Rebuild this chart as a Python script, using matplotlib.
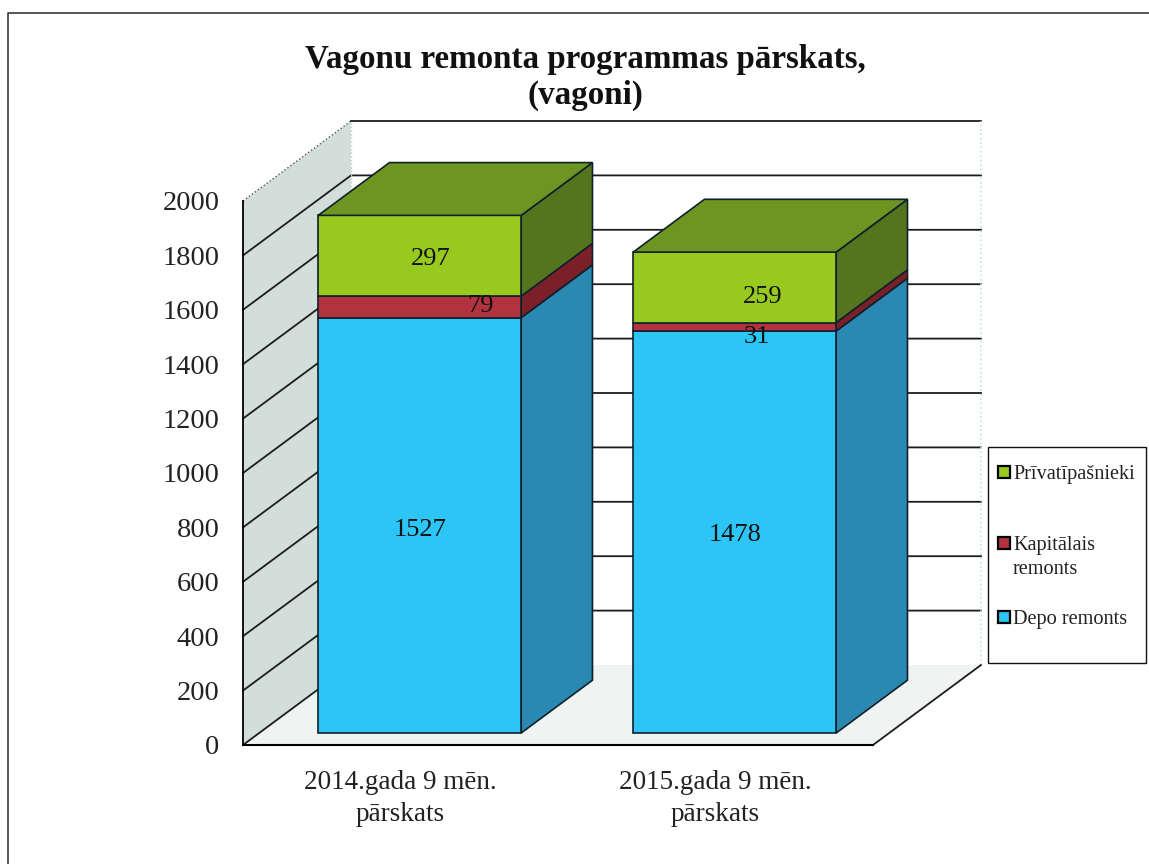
import matplotlib
matplotlib.use('Agg')
import matplotlib.pyplot as plt
from matplotlib.lines import Line2D
from matplotlib.patches import Polygon, Rectangle

plt.rcParams['font.family'] = ['Liberation Serif', 'DejaVu Serif']

#------ Datos ------
categorias = ['2014.gada 9 mēn.\npārskats', '2015.gada 9 mēn.\npārskats']
depo       = [1527, 1478]
kapitalais = [79, 31]
privati    = [297, 259]
series_nom = ['Depo remonts', 'Kapitālais\nremonts', 'Prīvatīpašnieki']
y_ticks    = [0, 200, 400, 600, 800, 1000, 1200, 1400, 1600, 1800, 2000]

#------ Estilo ------
W, H = 1149, 864
frente = ['#2cc5f6', '#b3323f', '#97c91f']
lado   = ['#2b88b2', '#7b2029', '#55741e']
techo  = '#6c9522'
ancho  = 203 / 315      # ancho de la barra en unidades de categoria
shift  = 3 / 315
prof_x = 108 / 315      # corrimiento de la profundidad total
prof_y = 80 / 0.272
d0, d1 = 0.15, 0.66     # profundidad de la barra

# corrimiento de cada etiqueta respecto del centro del segmento (px)
off_x = [[0, 61, 11], [0, 22, 28]]
off_y = [[5, -1, 3], [3, 10, 10]]
# centro vertical de cada entrada de la leyenda (px)
ley_y = [617, 543, 472]


def p(x, y, d=0.0):
    return (x + d * prof_x, y + d * prof_y)


fig = plt.figure(figsize=(W / 100, H / 100), dpi=100)
ax = fig.add_axes([243 / W, 1 - 745 / H, 630 / W, 544 / H])
ax.set_xlim(0, 2)
ax.set_ylim(0, 2000)
ax.patch.set_alpha(0)

#------ Marco de la pagina ------
fig.add_artist(Line2D([8 / W, 8 / W, 1], [0, 1 - 13 / H, 1 - 13 / H],
                      transform=fig.transFigure, color='#3a3a3a', lw=1.2))

#------ Paredes y piso ------
ax.add_patch(Polygon([p(0, 0), p(0, 2000), p(0, 2000, 1), p(0, 0, 1)], closed=True,
                     fc='#d3dedb', ec='none', clip_on=False, zorder=1))
ax.add_patch(Polygon([p(0, 0), p(2, 0), p(2, 0, 1), p(0, 0, 1)], closed=True,
                     fc='#eff4f3', ec='none', clip_on=False, zorder=1))

for v in y_ticks:
    xs, ys = zip(p(0, v), p(0, v, 1), p(2, v, 1))
    if v == 0:
        xs, ys = xs[:2], ys[:2]
    if v == 2000:
        ax.plot(xs[:2], ys[:2], color='#555555', lw=1, ls=':', clip_on=False, zorder=2)
        xs, ys = xs[1:], ys[1:]
    ax.plot(xs, ys, color='#1c1c1c', lw=1.3, clip_on=False, zorder=2)

xs, ys = zip(p(0, 0, 1), p(0, 2000, 1))
ax.plot(xs, ys, color='#b9cfcc', lw=1, ls=':', clip_on=False, zorder=2)
xs, ys = zip(p(2, 0, 1), p(2, 2000, 1))
ax.plot(xs, ys, color='#bfe6ea', lw=1.2, ls=':', clip_on=False, zorder=2)
xs, ys = zip(p(2, 0), p(2, 0, 1))
ax.plot(xs, ys, color='#1c1c1c', lw=1.3, clip_on=False, zorder=2)

#------ Barras ------
for i, cat in enumerate(categorias):
    xc = i + 0.5 + shift
    x0 = xc - ancho / 2
    x1 = xc + ancho / 2
    base = 0
    valores = [depo[i], kapitalais[i], privati[i]]
    for j, val in enumerate(valores):
        top = base + val
        ax.add_patch(Polygon([p(x1, base, d0), p(x1, top, d0), p(x1, top, d0 + d1), p(x1, base, d0 + d1)],
                             closed=True, fc=lado[j], ec='#10202a', lw=1.2, clip_on=False, zorder=3))
        ax.add_patch(Polygon([p(x0, base, d0), p(x1, base, d0), p(x1, top, d0), p(x0, top, d0)],
                             closed=True, fc=frente[j], ec='#10202a', lw=1.2, clip_on=False, zorder=4))
        cx, cy = p(xc, base + val / 2, d0)
        ax.annotate(str(val), (cx, cy), xytext=(off_x[i][j] * 0.72, -off_y[i][j] * 0.72),
                    textcoords='offset points', ha='center', va='center',
                    fontsize=19, color='#111111', zorder=6)
        base = top
    ax.add_patch(Polygon([p(x0, base, d0), p(x1, base, d0), p(x1, base, d0 + d1), p(x0, base, d0 + d1)],
                         closed=True, fc=techo, ec='#10202a', lw=1.2, clip_on=False, zorder=4))

#------ Ejes ------
ax.spines['top'].set_visible(False)
ax.spines['right'].set_visible(False)
ax.spines['left'].set_linewidth(1.3)
ax.spines['bottom'].set_linewidth(1.5)
ax.spines['left'].set_zorder(5)
ax.spines['bottom'].set_zorder(5)
ax.set_yticks(y_ticks)
ax.set_xticks([i + 0.5 for i in range(len(categorias))])
ax.set_xticklabels(categorias, fontsize=19.5, color='#222222', linespacing=1.35)
ax.tick_params(axis='y', length=0, pad=17, labelsize=20.5, labelcolor='#222222')
ax.tick_params(axis='x', length=0, pad=18)

fig.text(585 / W, 1 - 44 / H, 'Vagonu remonta programmas pārskats,\n(vagoni)', ha='center', va='top',
         fontsize=23.8, fontweight='bold', color='#111111')

#------ Leyenda ------
fig.add_artist(Rectangle((988 / W, 1 - 663 / H), 158 / W, 216 / H, transform=fig.transFigure,
                         fc='white', ec='#111111', lw=1.0))
for j, nom in enumerate(series_nom):
    fig.add_artist(Rectangle((998 / W, 1 - (ley_y[j] + 6) / H), 12 / W, 12 / H, transform=fig.transFigure,
                             fc=frente[j], ec='black', lw=1.6))
    fig.text(1013 / W, 1 - (ley_y[j] - 7) / H, nom, ha='left', va='top', fontsize=14.6,
             color='#222222', linespacing=1.35)

fig.savefig('out.png', dpi=100)
